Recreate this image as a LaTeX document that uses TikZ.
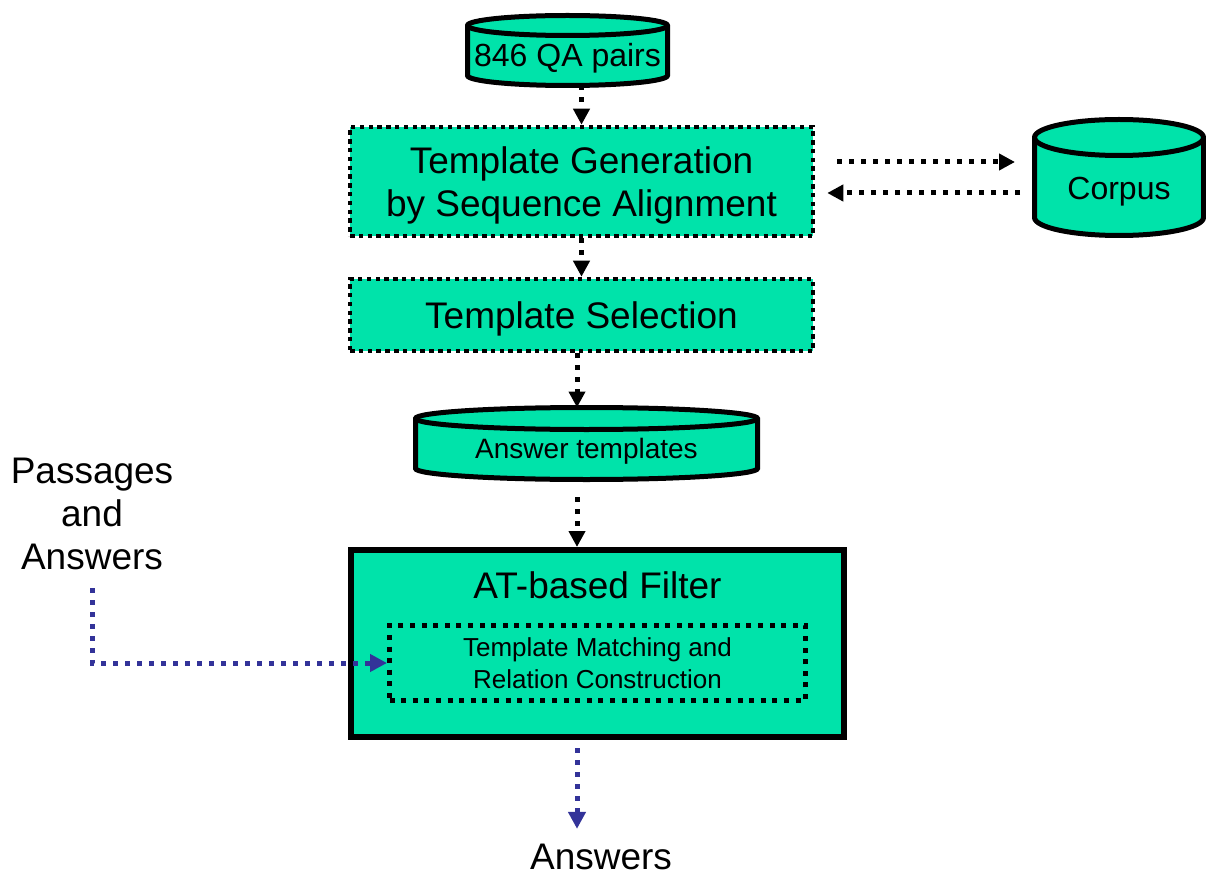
\documentclass[tikz,border=0pt]{standalone}
\usepackage{fontspec}
\setmainfont{Liberation Sans}
\usetikzlibrary{arrows.meta,calc,backgrounds}
\definecolor{boxgreen}{HTML}{00E3AA}
\definecolor{flowblue}{HTML}{333399}
\newcommand\mycyl[2]{%
  \begin{pgfonlayer}{background}
  \draw[cylline] let \p1=(#1.north west), \p2=(#1.south east), \n1={(\x2-\x1)/2} in
    (\x1,\y1-#2pt) arc[start angle=180,end angle=0,x radius=\n1,y radius=#2pt]
    -- (\x2,\y2+#2pt) arc[start angle=0,end angle=-180,x radius=\n1,y radius=#2pt] -- cycle;
  \draw[cylline, fill=none] let \p1=(#1.north west), \p2=(#1.south east), \n1={(\x2-\x1)/2} in
    (\x1,\y1-#2pt) arc[start angle=180,end angle=360,x radius=\n1,y radius=#2pt];
  \end{pgfonlayer}}
\tikzset{
  bigtext/.style={font=\fontsize{37}{43}\selectfont},
  cylnode/.style={inner sep=0pt, outer sep=0pt},
  cylline/.style={draw=black, fill=boxgreen, line width=5pt},
  dotbox/.style={draw=black, fill=boxgreen, line width=4.5pt, dash pattern=on 4.5pt off 4.3pt, align=center, inner sep=0pt},
  arr/.style={line width=5pt, dash pattern=on 5pt off 7pt, -{Triangle[length=16pt,width=16pt]}},
  barr/.style={line width=5pt, draw=flowblue, dash pattern=on 5pt off 7pt, -{Triangle[length=17pt,width=17pt]}},
}
\begin{document}
\begin{tikzpicture}[x=1pt,y=1pt]
\useasboundingbox (0,0) rectangle (1206,-874);

% cylinders
\node[cylnode, minimum width=200pt, minimum height=70pt,
  label={[inner sep=0pt, font=\fontsize{32}{38}\selectfont, yshift=-8pt]center:846 QA pairs}] (qa) at (567.5,-50.5) {};
\mycyl{qa}{10}

\node[cylnode, minimum width=342pt, minimum height=72pt,
  label={[inner sep=0pt, font=\fontsize{28}{34}\selectfont, yshift=-8pt]center:Answer templates}] (at) at (586.5,-443.5) {};
\mycyl{at}{11}

\node[cylnode, minimum width=169pt, minimum height=116pt,
  label={[inner sep=0pt, font=\fontsize{32}{38}\selectfont, yshift=-14pt]center:Corpus}] (corpus) at (1119,-177.5) {};
\mycyl{corpus}{18}

% boxes
\node[dotbox, bigtext, text depth=0pt, minimum width=463pt, minimum height=109pt] (gen) at (581.5,-181.5)
  {Template Generation\\by Sequence Alignment};
\node[dotbox, bigtext, text depth=0pt, minimum width=463pt, minimum height=72pt] (sel) at (581.5,-315)
  {Template Selection};

\node[draw=black, fill=boxgreen, line width=6pt, inner sep=0pt,
  minimum width=493pt, minimum height=187pt] (filter) at (597.5,-643.5) {};
\node[bigtext, inner sep=0pt] (ftitle) at (597.5,-585) {AT-based Filter};
\node[dotbox, line width=5pt, dash pattern=on 5pt off 6.6pt,
  font=\fontsize{26}{32}\selectfont,
  minimum width=416pt, minimum height=75pt] (match) at (597.5,-663)
  {Template Matching and\\Relation Construction};

% free texts
\node[bigtext, align=center, inner sep=0pt] (pa) at (92,-514) {Passages\\and\\Answers};
\node[bigtext, anchor=base, inner sep=0pt] (ans) at (601,-869) {Answers};

% connectors
\draw[arr] (qa.south -| gen.north) -- (gen.north);
\draw[arr] (gen.south) -- (sel.north);
\draw[arr] ([xshift=-4.5pt]sel.south) -- ([xshift=-9.5pt]at.north);
\draw[arr] ([xshift=-9.5pt,yshift=-17.5pt]at.south) -- ([xshift=-20.5pt]filter.north);
\draw[arr] ([xshift=22pt,yshift=19.5pt]gen.east) -- ([xshift=-19.5pt,yshift=15.5pt]corpus.west);
\draw[arr] ([xshift=-14.5pt,yshift=-15.5pt]corpus.west) -- ([xshift=12pt,yshift=-11.5pt]gen.east);
\draw[barr] ([yshift=-18pt]pa.south) |- (match.west);
\draw[barr] ([xshift=-20.5pt,yshift=-8pt]filter.south) -- ([xshift=-24pt,yshift=14.5pt]ans.north);
\end{tikzpicture}
\end{document}
